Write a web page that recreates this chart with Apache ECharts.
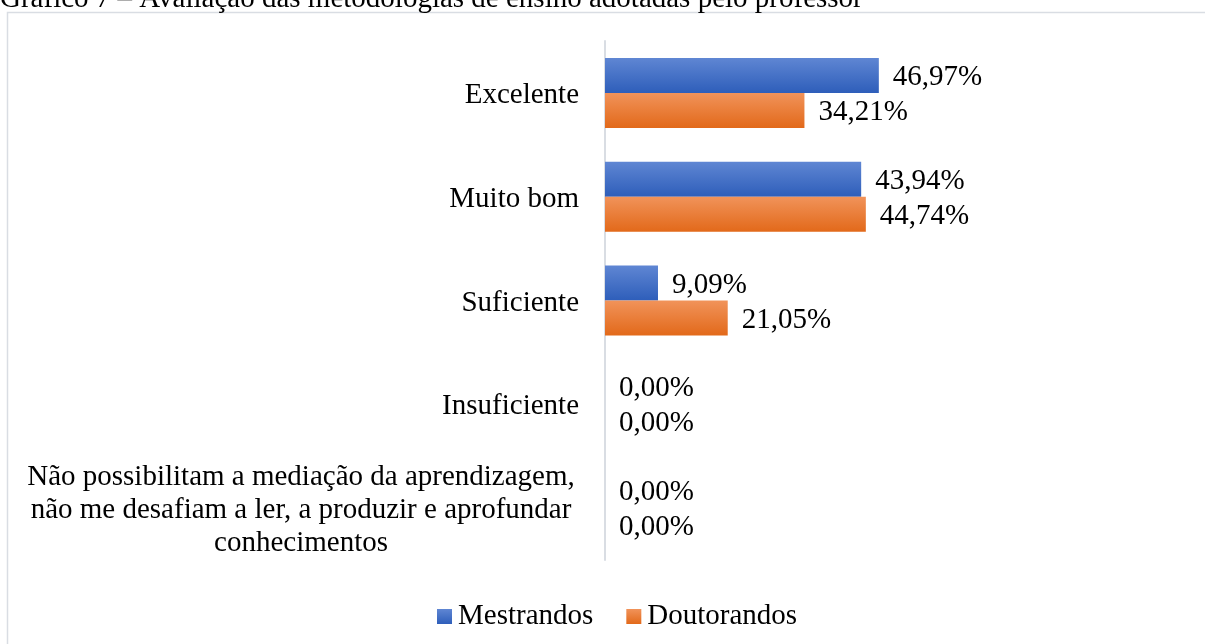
<!DOCTYPE html>
<html>
<head>
<meta charset="utf-8">
<script src="https://cdn.jsdelivr.net/npm/echarts@6/dist/echarts.min.js"></script>
<style>
  html, body { margin: 0; padding: 0; background: #fff; }
  #chart { width: 1205px; height: 644px; }
</style>
</head>
<body>
<div id="chart"></div>
<script>
const titleText = 'Gráfico 7 – Avaliação das metodologias de ensino adotadas pelo professor';
const categories = [
  'Excelente',
  'Muito bom',
  'Suficiente',
  'Insuficiente',
  'Não possibilitam a mediação da aprendizagem,\nnão me desafiam a ler, a produzir e aprofundar\nconhecimentos'
];
const seriesNames = ['Mestrandos', 'Doutorandos'];
const mestrandos = [46.97, 43.94, 9.09, 0, 0];
const doutorandos = [34.21, 44.74, 21.05, 0, 0];

const FONT = "'Liberation Serif', 'Times New Roman', serif";
const FS = 29;

function grad(top, bottom) {
  return new echarts.graphic.LinearGradient(0, 0, 0, 1, [
    { offset: 0, color: top },
    { offset: 1, color: bottom }
  ]);
}
const blue = grad('#5f86d3', '#2e5eba');
const orange = grad('#f1935a', '#e2691a');

function fmt(p) {
  return p.value.toFixed(2).replace('.', ',') + '%';
}

const chart = echarts.init(document.getElementById('chart'), null, { renderer: 'canvas' });
chart.setOption({
  animation: false,
  backgroundColor: '#ffffff',
  textStyle: { fontFamily: FONT },
  graphic: [
    {
      type: 'rect',
      shape: { x: 7.5, y: 12.5, width: 1300, height: 800 },
      style: { fill: 'none', stroke: '#d9dde3', lineWidth: 1.5 },
      silent: true, z: -1
    },
    {
      type: 'text',
      x: 0, y: -15,
      style: { text: titleText, font: FS + 'px ' + FONT, fill: '#000', textVerticalAlign: 'top' },
      silent: true
    }
  ],
  grid: { left: 605, right: 17, top: 41, bottom: 84, containLabel: false, outerBoundsMode: 'none' },
  legend: {
    data: seriesNames,
    left: 432,
    top: 597,
    icon: 'rect',
    itemWidth: 15,
    itemHeight: 15,
    itemGap: 33,
    textStyle: { fontFamily: FONT, fontSize: FS, color: '#000', padding: [0, 0, 0, 1] }
  },
  xAxis: {
    type: 'value',
    min: 0,
    max: 100,
    show: false
  },
  yAxis: {
    type: 'category',
    inverse: true,
    data: categories,
    axisLine: { show: true, lineStyle: { color: '#d9dde3', width: 2 } },
    axisTick: { show: false },
    splitLine: { show: false },
    axisLabel: {
      margin: 26,
      fontFamily: FONT,
      fontSize: FS,
      color: '#000',
      lineHeight: 33,
      padding: [5, 0, 0, 0],
      formatter: function (v, i) {
        return v.indexOf('\n') >= 0 ? '{c|' + v + '}' : v;
      },
      rich: {
        c: { width: 556, align: 'center', fontFamily: FONT, fontSize: FS, lineHeight: 33, color: '#000' }
      }
    }
  },
  series: [
    {
      name: seriesNames[0],
      type: 'bar',
      data: mestrandos,
      barWidth: 35,
      barGap: '0%',
      itemStyle: { color: blue },
      label: { show: true, position: 'right', distance: 14, offset: [0, 2], formatter: fmt, fontFamily: FONT, fontSize: FS, color: '#000' }
    },
    {
      name: seriesNames[1],
      type: 'bar',
      data: doutorandos,
      barWidth: 35,
      barGap: '0%',
      itemStyle: { color: orange },
      label: { show: true, position: 'right', distance: 14, offset: [0, 2], formatter: fmt, fontFamily: FONT, fontSize: FS, color: '#000' }
    }
  ]
});
</script>
</body>
</html>
